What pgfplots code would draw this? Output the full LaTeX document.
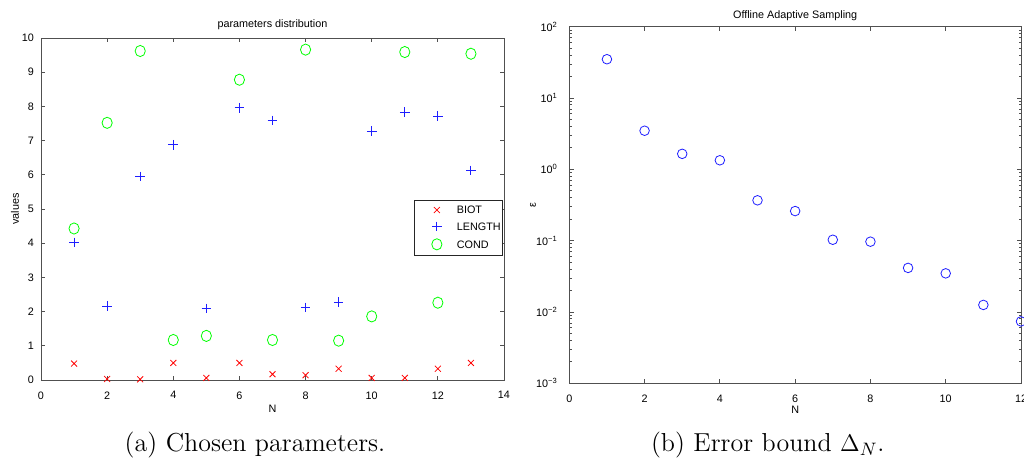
\documentclass[border=0pt]{standalone}
\usepackage{fontspec}
\usepackage{pgfplots}
\pgfplotsset{compat=1.18}
\newfontfamily\mfont[Ligatures=CommonOff]{Liberation Sans}
\newcommand\mf{\mfont\fontsize{5.4}{6.5}\selectfont}
\definecolor{axgray}{RGB}{80,80,80}
\definecolor{mred}{RGB}{255,0,0}
\definecolor{mblue}{RGB}{30,30,255}
\definecolor{mgreen}{RGB}{0,255,0}
\pgfplotsset{
  mstyle/.style={
    scale only axis,
    clip=false,
    axis line style={draw=axgray, line width=0.45pt},
    tick style={axgray, line width=0.45pt},
    major tick length=2.2pt,
    minor tick length=1.2pt,
    tick align=inside,
    tick label style={font=\mf, text=black},
    /pgf/number format/assume math mode=true,
    label style={font=\mf},
    title style={font=\mf},
    every axis title shift=0pt,
    xticklabel style={yshift=-2.2pt},
  },
  mleg/.style={legend image code/.code={\path[draw=none,fill=none] (0pt,0pt) -- (19pt,0pt); \draw[##1] plot[only marks] coordinates {(10pt,0pt)};}},
}
\begin{document}
\begin{tikzpicture}
\clip (0,0) rectangle (512pt,228.5pt);
\path[use as bounding box] (0,0) rectangle (512pt,228.5pt);
% ---------- left ----------
\begin{axis}[mstyle,
  at={(20.5pt,38.5pt)}, anchor=south west,
  width=231.5pt, height=171pt,
  xmin=0, xmax=14, ymin=0, ymax=10,
  xtick={0,2,...,14}, ytick={0,1,...,10},
  title={parameters distribution},
  title style={at={(axis description cs:0.5,1.038)}, anchor=center},
  xlabel={N},
  xlabel style={at={(axis description cs:0.5,-0.0848)}, anchor=center},
  ylabel={values},
  ylabel style={at={(axis description cs:-0.0562,0.5)}, anchor=center},
  legend cell align=left,
  legend style={at={(axis description cs:0.998,0.526)}, anchor=north east,
    draw=black!85, line width=0.4pt, font=\mf,
    inner xsep=1pt, inner ysep=2.6pt, row sep=3.7pt, column sep=1pt,
    nodes={inner sep=0pt, text height=4pt, text depth=0.3pt}},
]
\addplot[only marks, mark=x, color=mred, mark size=2.1pt, line width=0.4pt, mleg] coordinates {
(1,0.48)(2,0.03)(3,0.02)(4,0.50)(5,0.06)(6,0.50)(7,0.17)(8,0.14)(9,0.33)(10,0.06)(11,0.06)(12,0.33)(13,0.50)};
\addlegendentry{BIOT}
\addplot[only marks, mark=+, color=mblue, mark size=2.4pt, line width=0.45pt, mark options={color=mblue}, mleg] coordinates {
(1,4.02)(2,2.16)(3,5.95)(4,6.88)(5,2.09)(6,7.96)(7,7.59)(8,2.12)(9,2.28)(10,7.28)(11,7.83)(12,7.72)(13,6.13)};
\addlegendentry{LENGTH}
\addplot[only marks, mark=o, color=mgreen, mark size=2.55pt, line width=0.4pt, mark options={yscale=1.1}, mleg] coordinates {
(1,4.43)(2,7.52)(3,9.62)(4,1.17)(5,1.29)(6,8.78)(7,1.17)(8,9.66)(9,1.15)(10,1.86)(11,9.59)(12,2.26)(13,9.54)};
\addlegendentry{COND}
\end{axis}
% ---------- right ----------
\begin{axis}[mstyle,
  at={(284.65pt,36.85pt)}, anchor=south west,
  width=225.85pt, height=178.3pt,
  ymode=log,
  xmin=0, xmax=12, ymin=1e-3, ymax=1e2,
  xtick={0,2,...,12},
  ytick={1e-3,1e-2,1e-1,1,10,100},
  yticklabels={10\textsuperscript{−3},10\textsuperscript{−2},10\textsuperscript{−1},10\textsuperscript{0},10\textsuperscript{1},10\textsuperscript{2}},
  minor ytick={2e-3,3e-3,4e-3,5e-3,6e-3,7e-3,8e-3,9e-3,
    2e-2,3e-2,4e-2,5e-2,6e-2,7e-2,8e-2,9e-2,
    0.2,0.3,0.4,0.5,0.6,0.7,0.8,0.9,
    2,3,4,5,6,7,8,9,
    20,30,40,50,60,70,80,90},
  yticklabel style={xshift=-2.2pt},
  title={Offline Adaptive Sampling},
  title style={at={(axis description cs:0.5,1.030)}, anchor=center},
  xlabel={N},
  xlabel style={at={(axis description cs:0.5,-0.0729)}, anchor=center},
  ylabel={ε},
  ylabel style={at={(axis description cs:-0.0804,0.5)}, anchor=center},
]
\addplot[only marks, mark=o, color=mblue, mark size=2.4pt, line width=0.4pt] coordinates {
(1,35.0)(2,3.48)(3,1.65)(4,1.34)(5,0.368)(6,0.260)(7,0.103)(8,0.0968)(9,0.0415)(10,0.0348)(11,0.01256)(12,0.00738)};
\end{axis}
% ---------- captions ----------
\node[anchor=base, font=\fontsize{13}{15}\selectfont, inner sep=0pt] at (127.5pt,3pt) {(a) Chosen parameters.};
\node[anchor=base west, font=\fontsize{13}{15}\selectfont, inner sep=0pt] at (325.3pt,3pt) {(b) Error bound $\Delta_N$.};
\end{tikzpicture}
\end{document}
